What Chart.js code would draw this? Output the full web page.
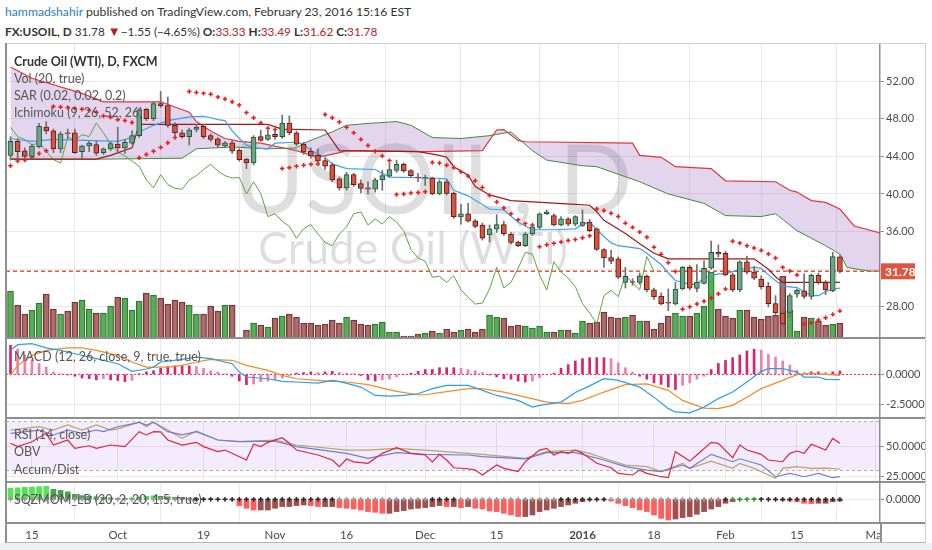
<!DOCTYPE html>
<html lang="en">
<head>
<meta charset="UTF-8">
<title>FX:USOIL, D</title>
<script src="https://cdn.jsdelivr.net/npm/chart.js@4.4.1/dist/chart.umd.min.js"></script>
<style>
  html, body { margin: 0; padding: 0; }
  body { width: 932px; height: 550px; position: relative; overflow: hidden; background: #fff;
         font-family: Lato, 'Open Sans', sans-serif; }
  .hdr { position: absolute; left: 5px; white-space: nowrap; color: #333; font-size: 12.2px; line-height: 16px; }
  .hdr .r { color: #b3261e; }
  .pane { position: absolute; left: 6px; width: 919px; }
  .line { position: absolute; background: #8f8f8f; }
  .lg { position: absolute; left: 14px; white-space: nowrap; color: #555; font-size: 12.5px; line-height: 16px; }
</style>
</head>
<body>

<div class="hdr" style="top:4px;"><span style="color:#2a7fc1">hammadshahir</span> published on TradingView.com, February 23, 2016 15:16 EST</div>
<div class="hdr" style="top:23px;font-size:11.8px;"><b>FX:USOIL, D</b> 31.78 <span class="r" style="font-size:13px">&#9660;</span>&minus;1.55 (&minus;4.65%) <b>O:</b><span class="r">33.33</span> <b>H:</b><span class="r">33.49</span> <b>L:</b><span class="r">31.62</span> <b>C:</b><span class="r">31.78</span></div>

<div class="pane" style="top:43px;height:295px;"><canvas id="cMain" width="919" height="295"></canvas></div>
<div class="pane" style="top:338px;height:80px;"><canvas id="cMacd" width="919" height="80"></canvas></div>
<div class="pane" style="top:418px;height:64px;"><canvas id="cRsi" width="919" height="64"></canvas></div>
<div class="pane" style="top:482px;height:61px;"><canvas id="cSqz" width="919" height="61"></canvas></div>

<!-- frame and pane separators -->
<div class="line" style="left:881px;top:524px;width:44px;height:18px;background:#fff;"></div>
<div class="line" style="left:880px;top:523px;width:1.5px;height:20px;"></div>
<div class="line" style="left:6px;top:43px;width:919px;height:1px;background:#cfcfcf;"></div>
<div class="line" style="left:5px;top:43px;width:2px;height:500px;"></div>
<div class="line" style="left:925px;top:43px;width:1px;height:500px;background:#cfcfcf;"></div>
<div class="line" style="left:6px;top:337px;width:919px;height:2px;"></div>
<div class="line" style="left:6px;top:417px;width:919px;height:2px;"></div>
<div class="line" style="left:6px;top:481px;width:919px;height:2px;"></div>
<div class="line" style="left:6px;top:522px;width:919px;height:2px;"></div>
<div class="line" style="left:0;top:543px;width:932px;height:7px;background:#eef1f4;"></div>
<div class="line" style="left:6px;top:542px;width:919px;height:1px;background:#b5b5b5;"></div>

<div class="lg" style="top:54px;color:#333;font-weight:bold;">Crude Oil (WTI), D, FXCM</div>
<div class="lg" style="top:71px;">Vol (20, true)</div>
<div class="lg" style="top:88px;">SAR (0.02, 0.02, 0.2)</div>
<div class="lg" style="top:105px;">Ichimoku (9, 26, 52, 26)</div>
<div class="lg" style="top:349px;">MACD (12, 26, close, 9, true, true)</div>
<div class="lg" style="top:427px;">RSI (14, close)</div>
<div class="lg" style="top:444px;">OBV</div>
<div class="lg" style="top:462px;">Accum/Dist</div>
<div class="lg" style="top:492px;">SQZMOM_LB (20, 2, 20, 1.5, true)</div>

<script>
// ---- daily bars, Sep 10 2015 .. Feb 23 2016 (index 0 .. 116) ----
const opens = [44.1,45.6,44.6,44.0,45.0,47.1,46.7,44.8,46.5,46.5,
  44.5,45.1,45.25,44.4,44.8,45.3,44.9,45.4,46.2,49.0,
  48.0,49.6,49.4,47.3,46.5,46.1,46.85,47.2,46.2,45.85,
  45.1,45.45,44.65,43.7,43.3,46.1,45.8,46.35,46.1,47.55,
  46.5,45.3,44.55,44.1,43.55,43.1,41.6,40.65,42.05,41.1,
  40.65,40.5,41.5,41.9,42.5,43.15,42.5,41.8,41.65,41.7,
  40.0,41.3,40.1,37.55,37.9,37.15,36.7,35.65,36.25,36.75,
  35.75,34.9,34.5,35.75,36.45,37.9,37.7,36.7,37.35,36.8,
  36.65,37.0,36.3,34.1,33.25,33.1,30.6,30.7,30.6,31.25,
  29.8,29.15,28.5,28.3,29.9,32.2,29.95,30.5,32.1,33.8,
  33.7,31.4,29.8,32.8,31.7,30.95,30.2,28.35,27.35,27.4,
  29.35,29.7,29.1,31.35,30.6,29.7,33.33];
const highs = [46.1,45.9,44.9,45.3,47.5,47.7,46.9,46.6,46.9,46.9,
  45.2,45.6,45.6,44.9,45.5,47.1,45.8,46.7,49.1,49.1,
  49.8,50.9,50.3,47.6,46.8,47.0,47.4,47.4,46.4,46.0,
  45.6,45.7,44.8,43.8,46.2,46.8,46.8,46.8,48.4,48.3,
  46.7,45.5,44.9,44.8,43.8,43.3,41.8,42.3,42.2,41.5,
  41.3,41.7,42.5,43.3,43.6,43.3,42.6,42.2,42.0,41.8,
  41.5,41.5,40.2,38.9,39.0,37.3,36.9,36.7,37.8,37.1,
  35.9,35.0,35.9,36.6,38.0,38.3,37.9,37.6,37.5,37.7,
  38.3,37.3,36.4,34.2,34.0,33.3,32.2,31.0,31.6,31.4,
  30.0,29.5,29.9,30.6,32.3,32.4,32.5,32.9,35.0,34.6,
  33.9,31.6,32.9,33.4,32.3,31.3,30.6,29.2,27.7,29.4,
  29.9,31.5,31.5,31.6,30.8,33.8,33.49];
const lows = [43.6,43.8,43.8,43.8,44.9,46.4,44.4,44.4,45.9,44.3,
  43.8,44.5,44.1,44.2,44.6,44.3,44.3,45.3,46.0,47.8,
  47.8,49.2,47.1,46.1,45.9,45.2,46.6,45.9,45.6,44.9,
  44.9,44.3,43.5,42.7,43.1,45.6,45.7,45.8,45.9,46.3,
  45.1,44.2,43.8,43.3,42.6,41.3,40.4,40.4,40.8,40.1,
  40.0,40.2,40.4,41.8,42.3,42.3,41.8,41.3,40.9,39.9,
  39.9,39.9,37.4,36.8,37.0,36.4,35.1,34.9,35.9,35.6,
  34.7,34.4,34.4,35.6,36.3,37.8,36.6,36.6,36.6,36.6,
  36.5,36.0,34.0,32.2,32.6,31.0,30.0,30.3,30.4,29.6,
  28.8,28.2,27.6,28.2,29.8,29.8,29.6,30.4,32.0,33.3,
  31.3,29.6,29.6,31.5,30.9,29.9,28.0,27.2,26.0,26.9,
  29.0,28.9,28.8,30.4,29.3,29.6,31.62];
const closes = [45.6,44.5,44.0,45.1,47.2,46.7,44.8,46.4,46.4,44.4,
  45.1,45.4,44.35,44.8,45.35,44.9,45.5,46.2,48.95,48.0,
  49.6,49.4,47.3,46.5,46.1,46.8,47.1,46.1,45.8,45.2,
  45.45,44.55,43.65,43.3,46.05,45.7,46.3,46.1,47.55,46.5,
  45.3,44.45,44.05,43.5,42.95,41.5,40.65,42.05,41.0,40.6,
  40.5,41.5,41.95,42.6,43.15,42.45,41.95,41.7,41.75,40.0,
  41.3,40.05,37.6,37.9,37.1,36.55,35.3,36.3,36.75,35.75,
  34.85,34.5,35.75,36.5,37.9,38.1,36.7,37.35,36.8,37.6,
  37.0,36.1,34.1,33.2,32.85,31.15,31.25,30.6,31.3,29.8,
  29.05,28.3,28.4,29.9,32.2,30.0,30.6,32.1,33.8,33.6,
  31.4,29.8,32.8,31.7,31.05,30.15,28.35,27.35,26.2,29.2,
  29.75,29.1,31.35,30.55,29.8,33.35,31.78];
const volume = [47,33,24,28,35,44,29,24,27,36,
  38,29,25,25,32,41,40,28,37,45,
  43,40,34,38,36,33,24,24,32,27,
  33,33,0,8,15,13,11,20,22,24,
  21,15,15,13,14,18,15,21,18,14,
  13,14,16,6,6,2,2,4,5,7,
  5,9,6,8,9,6,9,23,21,20,
  12,13,12,10,12,6,6,8,8,5,
  17,15,16,26,21,20,21,23,17,17,
  9,15,22,25,22,22,25,32,66,29,
  22,20,28,28,21,19,22,23,62,28,
  7,21,20,17,13,14,15];
const sar = [43.0,43.5,43.6,43.9,44.3,44.6,49.3,49.25,49.2,49.1,
  49.0,48.9,48.7,48.3,48.15,47.9,47.8,47.6,43.85,44.2,
  44.55,44.95,45.45,46.0,46.25,50.9,50.8,50.7,50.6,50.3,
  50.1,49.8,49.45,48.65,48.1,47.55,47.0,46.85,42.7,42.8,
  42.95,43.05,43.15,43.2,48.45,48.1,47.65,47.1,46.5,45.8,
  45.15,44.55,44.05,43.55,39.95,40.0,40.1,40.15,40.25,43.35,
  43.3,43.05,42.8,42.35,41.9,41.4,40.7,39.85,39.15,38.5,
  37.9,37.25,36.85,36.7,34.4,34.6,34.75,34.9,35.05,35.15,
  35.35,35.55,38.4,38.25,37.95,37.6,36.9,36.45,35.95,35.4,
  34.35,33.6,32.7,31.75,27.75,28.0,28.3,28.6,28.95,29.4,
  29.9,34.97,34.78,34.5,34.25,34.0,33.62,33.2,32.2,31.8,
  31.4,26.15,26.3,26.6,26.85,27.2,27.57];

// ---- Ichimoku lines, read at turning points (bar index / price) ----
const tenkanIdx = [0,3,6,15,17,18,20,22,25,27,28,29,30,31,32,33,34,36,37,40,41,42,44,45,47,51,53,59,61,62,64,67,69,71,73,76,79,80,81,82,84,85,88,89,91,92,93,95,96,97,99,100,102,104,105,106,107,108,110,111,112,113,114,115,116];
const tenkanVals = [45.9,45.6,45.8,45.6,46.0,46.6,47.3,47.8,48.2,48.25,48.1,47.9,47.8,46.7,45.9,45.2,44.9,44.8,45.4,45.5,45.3,44.6,43.9,43.2,42.7,42.6,41.8,41.7,41.6,40.4,39.8,38.4,38.3,37.0,36.2,36.2,36.3,36.8,37.0,36.2,34.8,34.5,34.2,33.7,32.5,31.6,30.8,30.4,30.4,31.1,31.5,31.5,32.0,32.2,32.1,31.4,30.8,30.2,30.05,29.6,29.2,29.2,29.6,29.9,30.0];
const kijunIdx = [0,12,14,17,18,36,38,44,46,57,60,61,62,64,65,67,70,79,81,82,83,86,88,90,92,104,106,107,108,116];
const kijunVals = [43.7,43.7,44.1,44.9,47.4,47.4,46.9,46.8,44.6,44.5,44.1,43.9,42.9,42.0,40.8,39.9,39.3,38.9,38.8,38.1,37.2,35.8,34.7,33.7,33.1,33.1,32.0,31.2,30.6,30.6];
const spanAIdx = [0,12,24,26,31,36,40,41,45,47,50,54,56,59,63,67,70,73,75,80,82,88,92,97,100,105,107,110,114,116,117,120,122];
const spanAVals = [43.7,43.7,43.8,44.8,45.0,44.8,44.9,45.4,46.6,47.3,47.5,47.7,47.3,46.0,45.9,46.2,46.6,44.6,43.6,43.0,42.9,41.3,40.0,39.0,37.7,37.6,37.9,36.1,34.5,33.6,32.2,31.8,31.8];
const spanBIdx = [0,3,10,13,21,25,26,28,30,32,35,40,43,46,47,58,66,68,69,71,72,87,88,91,93,98,100,107,109,110,112,114,116,118,122];
const spanBVals = [53.5,52.3,50.7,49.8,49.8,48.7,47.7,46.7,45.9,45.6,45.4,44.6,43.9,44.4,44.6,44.5,44.6,46.8,46.85,45.7,45.55,45.4,44.1,43.9,42.9,42.7,41.4,41.3,40.4,40.2,39.3,39.1,38.4,36.6,35.8];

// ---- MACD pane ----
const macdIdx = [0,1,3,5,7,9,12,15,17,19,20,21,24,26,28,31,32,33,36,38,40,43,45,46,49,51,53,55,57,59,61,64,66,68,71,73,74,77,79,81,83,85,88,90,92,93,95,97,99,101,103,105,106,108,110,111,113,114,116];
const macdVals = [1.98,2.45,2.53,2.18,1.98,1.7,1.3,0.88,0.25,0.44,0.6,1.02,1.24,1.43,1.3,0.88,0.19,-0.22,-0.36,-0.58,-0.63,-0.72,-0.5,-0.58,-1.05,-1.74,-1.79,-1.74,-1.6,-1.18,-0.91,-0.91,-1.32,-1.74,-2.15,-2.7,-2.56,-2.29,-1.5,-0.95,-0.36,-0.5,-1.05,-1.88,-2.83,-3.1,-3.17,-2.7,-2.0,-1.46,-0.63,0.25,0.47,0.47,0.19,-0.22,-0.22,-0.41,-0.43];
const signalIdx = [0,1,3,5,8,10,12,15,17,19,22,24,26,28,31,33,36,38,40,43,45,47,50,52,54,57,58,60,64,66,69,72,75,78,80,83,86,89,92,94,97,99,101,103,105,108,110,112,116];
const signalVals = [-0.08,0.74,1.57,1.98,2.18,2.18,1.98,1.57,1.02,0.6,0.6,0.74,1.02,1.24,1.16,0.74,0.33,-0.08,-0.36,-0.5,-0.58,-0.63,-0.85,-1.13,-1.4,-1.68,-1.68,-1.51,-1.18,-1.18,-1.46,-1.88,-2.29,-2.42,-2.15,-1.46,-0.85,-0.78,-1.32,-2.15,-2.78,-2.83,-2.56,-1.88,-1.18,-0.5,-0.02,0.08,-0.08];
const macdHist = [2.4,2.1,1.6,1.2,0.9,0.6,0.2,0.05,-0.05,-0.15,
  -0.3,-0.35,-0.45,-0.35,-0.45,-0.5,-0.6,-0.5,0.05,0.2,
  0.3,0.5,0.65,0.7,0.7,0.7,0.65,0.5,0.3,0.2,
  0.05,-0.15,-0.55,-0.85,-0.8,-0.6,-0.55,-0.45,-0.3,-0.1,
  0.1,0.15,0.2,0.15,0.2,0.25,0.15,0.1,0.05,-0.1,
  -0.45,-0.55,-0.45,-0.4,-0.2,-0.05,0.1,0.25,0.4,0.4,
  0.55,0.55,0.55,0.5,0.4,0.3,0.15,-0.05,-0.2,-0.35,
  -0.4,-0.55,-0.63,-0.55,-0.28,-0.05,0.1,0.5,0.8,1.1,
  1.3,1.38,1.38,1.38,1.3,0.95,0.55,0.2,-0.15,-0.4,
  -0.7,-0.83,-1.05,-1.25,-0.9,-0.7,-0.4,-0.15,0.4,0.9,
  1.15,1.38,1.6,1.93,2.07,2.0,1.65,1.43,1.1,0.77,
  0.33,0.14,0.2,0.2,0.15,0.2,0.28];

// ---- RSI / OBV / Accum-Dist pane (drawn on the RSI scale) ----
const rsiIdx = [0,1,3,5,6,8,9,11,12,14,16,18,19,20,21,22,24,26,27,29,30,33,34,35,36,38,39,40,43,45,46,47,48,50,52,54,56,58,59,60,61,62,64,65,66,68,69,71,72,74,75,76,77,78,79,80,82,84,85,87,88,89,91,92,93,95,96,98,99,101,102,103,105,106,108,109,110,111,112,114,115,116];
const rsiVals = [52.2,49.5,53.5,60.3,50.8,54.9,48.1,50.2,48.1,50.8,49.5,61.7,59,61.7,61.5,54.9,50.8,53,49.5,45.4,46.7,38.6,51.4,49.5,53,56.8,52.2,46.7,42.7,38.6,33.1,39.4,37.1,35.9,44,48.6,44,42.7,37.1,43.2,38.6,32.3,31.5,30.4,26.4,34.5,31.8,29.1,37.2,46.7,48.1,42.7,45.4,44,46.7,44,35.9,32.3,27.7,26.4,30.4,27.7,25,24.2,45.4,37.7,42.7,53,52.2,40.5,50.8,46.7,43.2,38.6,37.2,44,45.9,44,51.4,46.7,56.2,52.2];
const obvIdx = [0,4,6,8,10,12,13,15,18,19,20,22,24,26,29,32,37,40,47,50,54,58,64,66,72,75,79,83,86,89,91,94,95,98,101,102,105,107,109,111,113,115,116];
const obvVals = [60.3,63,59,63,60.3,63,61.7,65.7,69.3,67.1,69.3,61.7,59,61.7,54.9,53.5,54,49.5,44,40,44.6,43.2,42.7,41.3,39.6,44.6,44.6,38.6,33.2,30.4,29.1,34.5,31.8,43.2,37.2,39.6,34.5,25,27.7,25,27.7,24.2,25];
const adIdx = [0,4,6,8,10,12,14,15,18,19,20,22,24,26,29,32,37,40,47,50,54,58,64,66,72,75,79,81,83,86,89,91,94,95,98,101,102,104,107,108,110,112,114,116];
const adVals = [63,65.7,63,67.1,63,67.1,63,64,69.3,65.7,69.3,63,56.3,62,54.9,53.5,54.9,50.8,46.7,46.7,48.1,46.7,44,43.2,40,45.4,46.7,44,40,34.5,33.2,29.1,35.9,31.8,37.7,31.8,35.9,31.8,23.7,31.8,33.2,31.8,32,31.3];

// ---- squeeze momentum pane ----
const sqz = [1.1,1.15,1.2,1.22,1.27,1.3,1.0,0.9,0.75,0.5,
  0.37,0.3,0.25,0.2,0.15,0.1,0.1,0.15,0.25,0.3,
  0.35,0.3,0.25,0.2,0.15,0.1,0.05,0.05,0.02,-0.02,
  -0.05,-0.1,-0.63,-0.9,-1.07,-1.07,-1.07,-0.9,-0.73,-0.73,
  -0.63,-0.57,-0.63,-0.73,-0.73,-0.73,-0.83,-0.9,-0.97,-1.07,
  -1.23,-1.3,-1.4,-1.4,-1.23,-1.13,-0.97,-0.9,-0.83,-0.73,
  -0.63,-0.73,-0.73,-0.83,-0.73,-0.9,-0.97,-1.17,-1.23,-1.4,
  -1.57,-1.73,-1.73,-1.57,-1.23,-1.07,-0.9,-0.73,-0.57,-0.4,
  -0.23,-0.1,-0.07,-0.1,-0.17,-0.4,-0.63,-0.83,-1.07,-1.23,
  -1.57,-1.9,-2.07,-1.97,-1.83,-1.73,-1.5,-1.23,-0.97,-0.73,
  -0.4,-0.23,-0.07,0.05,0.08,0.05,-0.07,-0.1,-0.13,-0.17,
  -0.23,-0.4,-0.43,-0.4,-0.4,-0.23,-0.17];
// squeeze state runs: g = off (gray), b = on (black), n = none (green)
const sqzRuns = [['g',26],['b',20],['g',13],['b',4],['g',14],['b',7],['g',16],['b',1],['n',4],['b',12]];

// ---- time axis ----
const xTickIdx = [3,15,27,37,47,58,68,80,90,100,110,121];
const xTickLabels = ['15','Oct','19','Nov','16','Dec','15','2016','18','Feb','15','Mar'];

// ---------------------------------------------------------------
const X_MIN = -0.63, X_MAX = 121.61;
const FONT = "Lato, 'Open Sans', sans-serif";
const GRID = '#e9e9e9', EDGE = '#8f8f8f', TXT = '#4a4a4a';
const CLOUD = 'rgba(140, 80, 180, 0.24)';
const lastClose = closes[closes.length - 1];

const pts = (idx, vals) => idx.map((x, k) => ({ x, y: vals[k] }));
const bars = vals => vals.map((y, x) => ({ x, y }));

function xAxis(labels) {
  return {
    type: 'linear', min: X_MIN, max: X_MAX, offset: false,
    afterBuildTicks: s => { s.ticks = xTickIdx.map(value => ({ value })); },
    afterFit: s => { s.paddingLeft = 0; s.paddingRight = 0; if (labels) s.height = 20; },
    grid: { color: GRID, drawTicks: false },
    border: { display: false },
    ticks: labels ? {
      display: true, padding: 5, maxRotation: 0, autoSkip: false, color: TXT,
      font: ctx => ({ family: FONT, size: 11.5, weight: xTickLabels[ctx.index] === '2016' ? 'bold' : 'normal' }),
      callback: (v, i) => xTickLabels[i]
    } : { display: false }
  };
}

function yAxis(min, max, ticks, dec) {
  return {
    position: 'right', min, max,
    afterBuildTicks: s => { s.ticks = ticks.map(value => ({ value })); },
    afterFit: s => { s.width = 45; s.paddingTop = 0; s.paddingBottom = 0; },
    grid: { color: GRID, tickColor: EDGE, tickLength: 4 },
    border: { color: EDGE, width: 1.5 },
    ticks: { color: TXT, padding: 2, font: { family: FONT, size: 11 }, callback: v => v.toFixed(dec) }
  };
}

function options(scales) {
  return {
    responsive: false, animation: false, events: [],
    layout: { autoPadding: false, padding: 0 },
    plugins: { legend: { display: false }, tooltip: { enabled: false } },
    scales
  };
}

const lineDs = (data, color, width) => ({ type: 'line', data, borderColor: color, borderWidth: width, pointRadius: 0, fill: false });

// watermark symbol text behind the price pane
const watermark = {
  id: 'watermark',
  beforeDatasetsDraw(chart) {
    const ctx = chart.ctx;
    ctx.save();
    ctx.fillStyle = 'rgba(0,0,0,0.13)';
    ctx.textAlign = 'center';
    ctx.textBaseline = 'alphabetic';
    ctx.font = '97px ' + FONT;
    ctx.fillText('USOIL, D', 427, 171);
    ctx.font = '45px ' + FONT;
    ctx.fillText('Crude Oil (WTI)', 407, 221);
    ctx.restore();
  }
};

// last price tag on the price axis
const priceTag = {
  id: 'priceTag',
  afterDraw(chart) {
    const ctx = chart.ctx;
    const y = chart.scales.y.getPixelForValue(lastClose);
    const x = chart.chartArea.right + 1;
    ctx.save();
    ctx.fillStyle = '#e0553e';
    ctx.fillRect(x, y - 8, 34, 16);
    ctx.fillStyle = '#fff';
    ctx.font = 'bold 12px ' + FONT;
    ctx.textAlign = 'left';
    ctx.textBaseline = 'middle';
    ctx.fillText(lastClose.toFixed(2), x + 4, y + 0.5);
    ctx.restore();
  }
};

// ---- price pane ----
const up = closes.map((c, i) => c >= opens[i]);
new Chart(document.getElementById('cMain'), {
  type: 'bar',
  data: { datasets: [
    { type: 'bar', data: closes.map((c, i) => ({ x: i, y: [opens[i], c] })),
      backgroundColor: up.map(u => u ? '#6ba583' : '#d75442'),
      borderColor: up.map(u => u ? '#225437' : '#5b1a13'),
      borderWidth: 1, borderSkipped: false, barThickness: 5, grouped: false },
    { type: 'bar', data: highs.map((h, i) => ({ x: i, y: [lows[i], h] })),
      backgroundColor: '#6f6f72', barThickness: 1, grouped: false },
    { type: 'line', data: bars(sar), showLine: false, pointStyle: 'cross', pointRadius: 2.2,
      pointBorderWidth: 1.5, pointBorderColor: '#f01a1a' },
    lineDs(pts(tenkanIdx, tenkanVals), '#3ba0ec', 1.2),
    lineDs(pts(kijunIdx, kijunVals), '#9a1b1b', 1.2),
    lineDs(closes.slice(26).map((c, k) => ({ x: k, y: c })), '#62a13e', 1),
    Object.assign(lineDs([{ x: X_MIN, y: lastClose }, { x: X_MAX, y: lastClose }], '#e4573f', 1.5), { borderDash: [4, 3] }),
    lineDs(pts(spanAIdx, spanAVals), '#3c8c3c', 1),
    Object.assign(lineDs(pts(spanBIdx, spanBVals), '#e2363a', 1.2), { fill: { target: 7, above: CLOUD, below: CLOUD } }),
    { type: 'bar', yAxisID: 'v', data: bars(volume),
      backgroundColor: up.map(u => u ? 'rgba(70,165,70,0.9)' : 'rgba(160,82,82,0.85)'),
      borderColor: up.map(u => u ? '#2f6f2f' : '#6e3434'),
      borderWidth: 1, borderSkipped: false, barThickness: 6, grouped: false }
  ]},
  options: options({
    x: xAxis(false),
    y: yAxis(24.69, 56.05, [28, 32, 36, 40, 44, 48, 52], 2),
    v: { display: false, min: 0, max: 295 }
  }),
  plugins: [watermark, priceTag]
});

// ---- MACD pane ----
const histCol = macdHist.map((v, i) => {
  const p = i ? macdHist[i - 1] : v;
  return (v >= 0 ? v >= p : v <= p) ? '#d6246e' : '#ef7fa8';
});
new Chart(document.getElementById('cMacd'), {
  type: 'bar',
  data: { datasets: [
    lineDs(pts(macdIdx, macdVals), '#2d9ee8', 1.2),
    lineDs(pts(signalIdx, signalVals), '#f48a2a', 1.2),
    Object.assign(lineDs([{ x: X_MIN, y: 0 }, { x: X_MAX, y: 0 }], '#e0286e', 1), { borderDash: [2, 2] }),
    { type: 'bar', data: bars(macdHist), backgroundColor: histCol, barThickness: 2, grouped: false }
  ]},
  options: options({ x: xAxis(false), y: yAxis(-3.6, 3.0, [0, -2.5], 4) })
});

// ---- RSI / OBV / Accum-Dist pane ----
new Chart(document.getElementById('cRsi'), {
  type: 'line',
  data: { datasets: [
    lineDs(pts(rsiIdx, rsiVals), '#e0243c', 1.2),
    lineDs(pts(obvIdx, obvVals), '#6f7bd4', 1.2),
    lineDs(pts(adIdx, adVals), '#b5a764', 1.2),
    Object.assign(lineDs([{ x: X_MIN, y: 70 }, { x: X_MAX, y: 70 }], '#b0b0b0', 1),
      { borderDash: [3, 3], fill: { target: 4, above: 'rgba(170,110,230,0.13)', below: 'rgba(170,110,230,0.13)' } }),
    Object.assign(lineDs([{ x: X_MIN, y: 30 }, { x: X_MAX, y: 30 }], '#b0b0b0', 1), { borderDash: [3, 3] })
  ]},
  options: options({ x: xAxis(false), y: yAxis(20.7, 72.8, [25, 50], 4) })
});

// ---- squeeze momentum pane ----
const sqzCol = sqz.map((v, i) => {
  const p = i ? sqz[i - 1] : 0;
  if (v > 0) return v > p ? 'rgba(40,220,40,0.8)' : 'rgba(20,130,20,0.75)';
  return v < p ? 'rgba(255,40,40,0.75)' : 'rgba(130,20,20,0.75)';
});
const crossCol = [];
sqzRuns.forEach(([s, n]) => { for (let k = 0; k < n; k++) crossCol.push(s === 'b' ? '#2b2b2b' : s === 'g' ? '#9a9a9a' : '#2e9a2e'); });
new Chart(document.getElementById('cSqz'), {
  type: 'bar',
  data: { datasets: [
    { type: 'line', data: sqz.map((v, x) => ({ x, y: 0 })), showLine: false, pointStyle: 'cross',
      pointRadius: 2.4, pointBorderWidth: 1.5, pointBorderColor: crossCol },
    { type: 'bar', data: bars(sqz), backgroundColor: sqzCol, barThickness: 5, grouped: false }
  ]},
  options: options({ x: xAxis(true), y: yAxis(-2.37, 1.73, [0], 4) })
});
</script>
</body>
</html>
